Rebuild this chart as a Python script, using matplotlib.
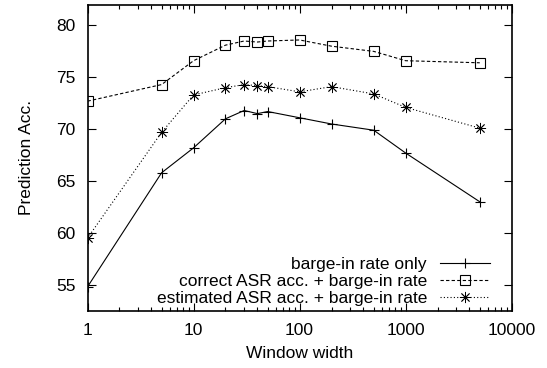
import matplotlib
matplotlib.use("Agg")
import matplotlib.pyplot as plt
from matplotlib.ticker import LogLocator, NullFormatter, FixedLocator

plt.rcParams['font.family'] = ['Liberation Sans', 'DejaVu Sans']

window = [1, 5, 10, 20, 30, 40, 50, 100, 200, 500, 1000, 5000]
barge_only = [54.8, 65.8, 68.2, 71.0, 71.8, 71.5, 71.7, 71.1, 70.5, 69.9, 67.7, 63.0]
correct_asr = [72.7, 74.3, 76.6, 78.1, 78.5, 78.4, 78.5, 78.6, 78.0, 77.5, 76.6, 76.4]
estimated_asr = [59.5, 69.7, 73.3, 74.0, 74.3, 74.2, 74.1, 73.6, 74.1, 73.4, 72.1, 70.1]
labels = ["barge-in rate only", "correct ASR acc. + barge-in rate",
          "estimated ASR acc. + barge-in rate"]
xticks = [1, 10, 100, 1000, 10000]
xticklabels = ["1", "10", "100", "1000", "10000"]
yticks = [55, 60, 65, 70, 75, 80]

FS = 12.5
fig = plt.figure(figsize=(5.47, 3.68), dpi=100)
ax = fig.add_axes([87.5/547, 1 - 310.7/368, (511.7 - 87.5)/547, (310.7 - 4.7)/368])

lw = 0.8
ax.plot(window, barge_only, color='black', lw=lw, ls='-', marker='+',
        markersize=7, markeredgewidth=lw, label=labels[0])
ax.plot(window, correct_asr, color='black', lw=lw, ls=(0, (3, 2)), marker='s',
        markersize=6.5, markerfacecolor='none', markeredgewidth=lw, label=labels[1])
ax.plot(window, estimated_asr, color='black', lw=lw, ls=(0, (1, 2)), marker=(8, 2, 0),
        markersize=8, markeredgewidth=0.6, label=labels[2])

ax.set_xscale('log')
ax.set_xlim(1, 10000)
ax.set_ylim(52.5, 82)
ax.xaxis.set_major_locator(FixedLocator(xticks))
ax.set_xticklabels(xticklabels)
ax.xaxis.set_minor_locator(LogLocator(base=10, subs=range(2, 10)))
ax.xaxis.set_minor_formatter(NullFormatter())
ax.set_yticks(yticks)

ax.tick_params(which='major', direction='in', length=6, width=0.8, top=True, right=True,
               labelsize=FS, pad=8.5)
ax.tick_params(which='minor', direction='in', length=3, width=0.8, top=True, right=True)
for s in ax.spines.values():
    s.set_linewidth(1.2)

ax.set_xlabel("Window width", fontsize=FS, labelpad=6)
ax.set_ylabel("Prediction Acc.", fontsize=FS, labelpad=16)

leg = ax.legend(loc='lower right', frameon=False, markerfirst=False, fontsize=FS,
                handlelength=2.88, handletextpad=0.75, labelspacing=0.1,
                borderaxespad=0, borderpad=0,
                bbox_to_anchor=((490 - 87.5) / 424.2, 4.8 / 306))
for t in leg.get_texts():
    t.set_ha('right')

fig.savefig("out.png", dpi=100)
